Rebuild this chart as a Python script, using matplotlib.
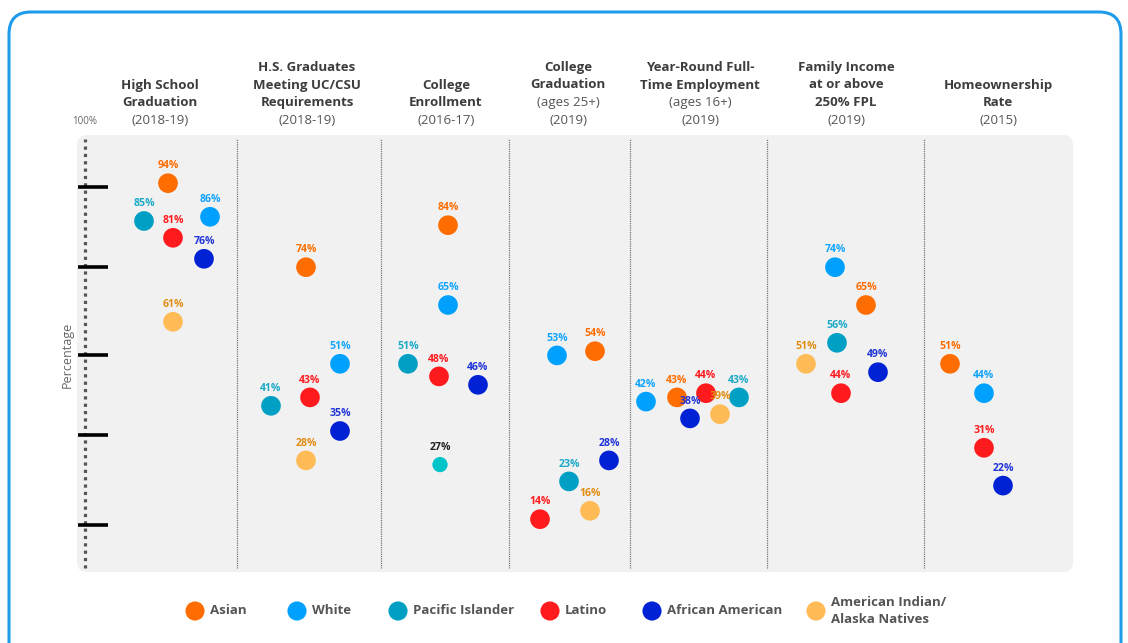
import matplotlib.pyplot as plt
from matplotlib.patches import FancyBboxPatch

plt.rcParams["font.family"] = ["Open Sans", "DejaVu Sans"]

# ---- data (percent), one entry per indicator panel ----
panel_titles = [
    ["High School", "Graduation"],
    ["H.S. Graduates", "Meeting UC/CSU", "Requirements"],
    ["College", "Enrollment"],
    ["College", "Graduation"],
    ["Year-Round Full-", "Time Employment"],
    ["Family Income", "at or above", "250% FPL"],
    ["Homeownership", "Rate"],
]
panel_subtitles = [
    ["(2018-19)"],
    ["(2018-19)"],
    ["(2016-17)"],
    ["(ages 25+)", "(2019)"],
    ["(ages 16+)", "(2019)"],
    ["(2019)"],
    ["(2015)"],
]

groups = ["Asian", "White", "Pacific Islander", "Latino", "African American",
          "American Indian/\nAlaska Natives"]
asian = [94, 74, 84, 54, 43, 65, 51]
white = [86, 51, 65, 53, 42, 74, 44]
pacific = [85, 41, 51, 23, 43, 56, None]
latino = [81, 43, 48, 14, 44, 44, 31]
african_american = [76, 35, 46, 28, 38, 49, 22]
aian = [61, 28, 27, 16, 39, 51, None]

# ---- layout / style ----
W, H = 1128, 643
PX_PER_PCT, ZERO_PX = 4.2, 578  # vertical scale of the grey panel
panel_edges = [77, 237, 381, 509, 630, 767, 924, 1073]
title_x = [160, 307, 446, 568, 700, 846, 998]
# hand-placed horizontal position of each dot (pixels)
x_pos = {
    "Asian": [168, 306, 448, 595, 677, 866, 950],
    "White": [210, 340, 448, 557, 646, 835, 984],
    "Pacific Islander": [144, 271, 408, 569, 739, 837, None],
    "Latino": [173, 310, 439, 540, 706, 841, 984],
    "African American": [204, 340, 478, 609, 690, 878, 1003],
    "American Indian/\nAlaska Natives": [173, 306, 440, 590, 720, 806, None],
}
values = dict(zip(groups, [asian, white, pacific, latino, african_american, aian]))
dot_color = dict(zip(groups, ["#ff6c00", "#00a0ff", "#00a0c4", "#ff1a1e", "#0022d4", "#ffbb55"]))
lab_color = dict(zip(groups, ["#ff6c00", "#10a4ff", "#1aaac8", "#ff1a1e", "#1f33d8", "#e28c12"]))
tick_vals = [93, 74, 53, 34, 12.6]

fig = plt.figure(figsize=(W / 100, H / 100), dpi=100)

# background / decoration layer in pixel coordinates
bg = fig.add_axes([0, 0, 1, 1])
bg.set_xlim(0, W)
bg.set_ylim(H, 0)
bg.axis("off")
bg.add_patch(FancyBboxPatch((9, 12), 1112, 680, boxstyle="round,pad=0,rounding_size=22",
                            fc="white", ec="#1e9bea", lw=2.2))
bg.add_patch(FancyBboxPatch((77, 135), 996, 437, boxstyle="round,pad=0,rounding_size=10",
                            fc="#f1f1f1", ec="none"))

for cx, tl, sl in zip(title_x, panel_titles, panel_subtitles):
    lines = [(t, "bold", "#3d3d3d") for t in tl] + [(s, "normal", "#555555") for s in sl]
    for k, (txt, wt, col) in enumerate(reversed(lines)):
        bg.text(cx, 120 - 17.5 * k, txt, ha="center", va="center", fontsize=9.5,
                fontweight=wt, color=col)

bg.text(85, 121, "100%", ha="center", va="center", fontsize=7, color="#666666")
bg.text(67, 355, "Percentage", ha="center", va="center", rotation=90, fontsize=9,
        color="#666666")

# legend
leg_dot_x = [195, 297, 398, 550, 652, 816]
for gx, g in zip(leg_dot_x, groups):
    bg.scatter([gx], [611], s=190, color=dot_color[g], edgecolors="none")
    bg.text(gx + 15, 611, g, ha="left", va="center", fontsize=9.5, fontweight="bold",
            color="#555555", linespacing=1.35)

# main data axes: y in percent
ax = fig.add_axes([77 / W, (H - 572) / H, 996 / W, 437 / H])
ax.patch.set_alpha(0)
ax.set_xlim(77, 1073)
ax.set_ylim((ZERO_PX - 572) / PX_PER_PCT, (ZERO_PX - 135) / PX_PER_PCT)
ax.axis("off")

ax.axvline(85, ymin=0.01, ymax=0.99, color="#555555", lw=2.3, dashes=(1, 1.3))
for tv in tick_vals:
    ax.plot([78, 108], [tv, tv], color="black", lw=2.6, solid_capstyle="butt")
for xe in panel_edges[1:-1]:
    ax.axvline(xe, ymin=0.01, ymax=0.99, color="#777777", lw=0.9, ls=(0, (1, 0.8)))

for g in groups:
    for i, (v, xp) in enumerate(zip(values[g], x_pos[g])):
        if v is None:
            continue
        col, lcol, size = dot_color[g], lab_color[g], 200
        if g == groups[-1] and i == 2:  # drawn differently in the original
            col, lcol, size = "#00c4c8", "#222222", 120
        ax.scatter([xp], [v], s=size, color=col, edgecolors="none", zorder=3)
        ax.annotate(f"{v}%", (xp, v), xytext=(0, 12.5), textcoords="offset points",
                    ha="center", va="center", fontsize=7.6, fontweight="bold", color=lcol)

fig.savefig("out.png", dpi=100)
